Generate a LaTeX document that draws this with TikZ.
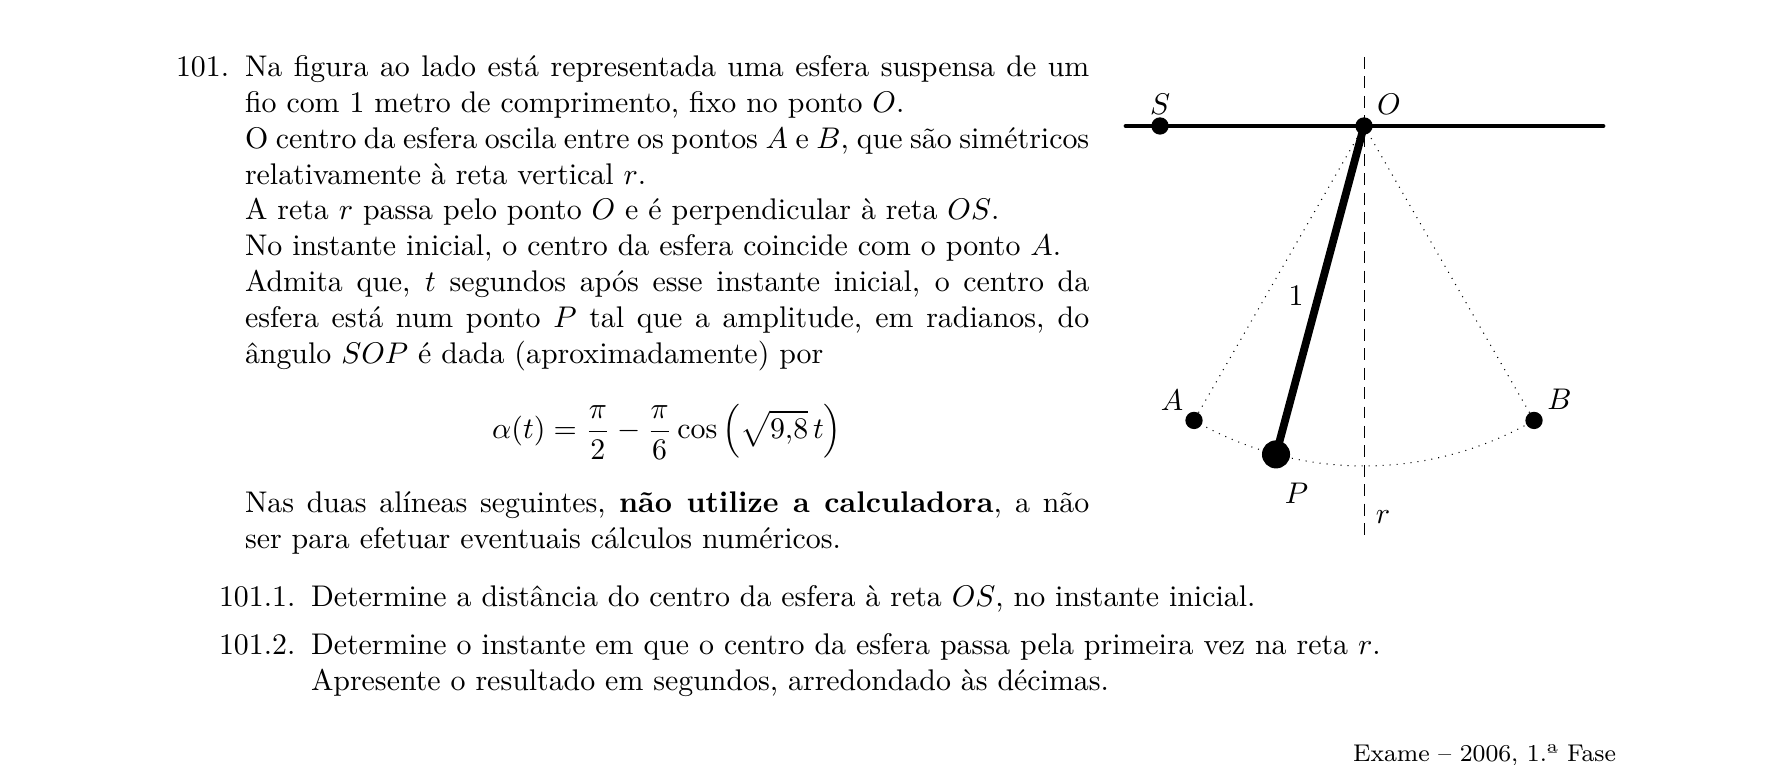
\documentclass[tikz,border=0pt]{standalone}
\usepackage{amsmath}
\usetikzlibrary{calc}
\newcommand{\parasetup}{\parindent=0pt\parskip=0pt\baselineskip=12pt\lineskiplimit=-5pt\relax}
\tikzset{
  x=0.33473pt,y=0.33473pt,
  txt/.style={inner sep=0pt,outer sep=0pt,anchor=base west},
  lbl/.style={inner sep=0pt,outer sep=0pt},
  para/.style={txt,text width=282.6pt,align=justify},
  dot/.style={circle,fill=black,inner sep=0pt,outer sep=0pt,minimum size=5.8pt},
  bob/.style={circle,fill=black,inner sep=0pt,outer sep=0pt,minimum size=9.4pt},
  bar/.style={line width=1.6pt,line cap=round},
  wire/.style={line width=2.6pt},
  axis/.style={line width=0.3pt,dash pattern=on 4pt off 2.5pt},
  guide/.style={line width=0.35pt,dotted},
}
\begin{document}
\begin{tikzpicture}
\useasboundingbox (0,0) rectangle (1785,765);
% problem text
\node[txt] (num) at (176,688.5) {101.};
\node[para] (body) at (245,688.5) {\parasetup
Na figura ao lado está representada uma esfera suspensa de um fio com 1 metro de comprimento, fixo no ponto $O$.\par
O centro da esfera oscila entre os pontos $A$ e $B$, que são simétricos relativamente à reta vertical $r$.\par
A reta $r$ passa pelo ponto $O$ e é perpendicular à reta $OS$.\par
No instante inicial, o centro da esfera coincide com o ponto $A$.\par
Admita que, $t$ segundos após esse instante inicial, o centro da esfera está num ponto $P$ tal que a amplitude, em radianos, do ângulo $SOP$ é dada (aproximadamente) por\par};
\node[lbl] (eq) at (667,333) {$\displaystyle \alpha(t)=\frac{\pi}{2}-\frac{\pi}{6}\cos\left(\sqrt{9{,}8}\,t\right)$};
\node[para] (note) at (245,252) {\parasetup
Nas duas alíneas seguintes, \textbf{não utilize a calculadora}, a não ser para efetuar eventuais cálculos numéricos.\par};
\node[txt] (n1) at (219,158) {101.1.};
\node[txt] (t1) at (311,158) {Determine a distância do centro da esfera à reta $OS$, no instante inicial.};
\node[txt] (n2) at (219,110.5) {101.2.};
\node[txt] (t2) at (311,110.5) {Determine o instante em que o centro da esfera passa pela primeira vez na reta $r$.};
\node[txt] (t3) at (311,74.5) {Apresente o resultado em segundos, arredondado às décimas.};
\node[txt,anchor=base east,font=\fontsize{8.1pt}{10pt}\selectfont] (src) at (1616,3) {Exame – 2006, 1.ª Fase};
% pendulum
\coordinate (C) at (1364,639);
\coordinate (L) at (1126,639);
\coordinate (R) at (1603,639);
\coordinate (rt) at (1364,708);
\coordinate (rb) at (1364,230);
\draw[axis] (rt) -- (rb);
\node[dot] (O) at (C) {};
\node[dot] (S) at (1160,639) {};
\node[dot] (A) at ($(C)+(240:340)$) {};
\node[dot] (B) at ($(C)+(300:340)$) {};
\node[bob] (P) at ($(C)+(255:340)$) {};
\draw[bar] (L) -- (R);
\draw[guide] (O.center) -- (A.center);
\draw[guide] (O.center) -- (B.center);
\draw[guide] (A.center) arc[start angle=240,end angle=300,radius=340];
\draw[wire] (O.center) -- (P.center);
\node[lbl] (lS) at (1160,661) {$S$};
\node[lbl] (lO) at (1389,661) {$O$};
\node[lbl] (l1) at (1296,469) {$1$};
\node[lbl] (lA) at (1172,365) {$A$};
\node[lbl] (lB) at (1559.5,366) {$B$};
\node[lbl] (lP) at (1296.5,272) {$P$};
\node[lbl] (lr) at (1383,248) {$r$};
\end{tikzpicture}
\end{document}
